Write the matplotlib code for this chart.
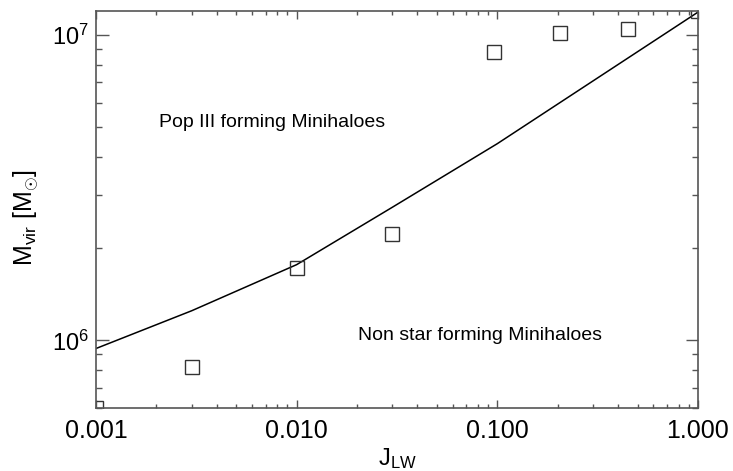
import matplotlib
matplotlib.use("Agg")
import matplotlib.pyplot as plt
from matplotlib.ticker import FixedLocator, LogLocator, NullFormatter

plt.rcParams['font.family'] = ['Liberation Sans', 'DejaVu Sans']
plt.rcParams['mathtext.fontset'] = 'custom'
plt.rcParams['mathtext.rm'] = 'Liberation Sans'
plt.rcParams['mathtext.it'] = 'Liberation Sans'
plt.rcParams['mathtext.bf'] = 'Liberation Sans'

# Threshold curve
curve_j = [0.001, 0.003, 0.01, 0.03, 0.1, 1.0]
curve_m = [9.4e5, 1.25e6, 1.77e6, 2.73e6, 4.41e6, 1.19e7]

# Simulation points (squares)
pts_j = [0.001, 0.003, 0.01, 0.03, 0.096, 0.205, 0.45, 1.0]
pts_m = [6.0e5, 8.2e5, 1.72e6, 2.23e6, 8.82e6, 1.02e7, 1.044e7, 1.2e7]

xticks = [0.001, 0.01, 0.1, 1.0]
xticklabels = ["0.001", "0.010", "0.100", "1.000"]
yticks = [1e6, 1e7]
yticklabels = [r"$10^{6}$", r"$10^{7}$"]

spine_col = "#555555"

fig = plt.figure(figsize=(7.33, 4.71), dpi=100)
ax = fig.add_axes([96/733, 1-408/471, (698-96)/733, (408-11)/471])

ax.plot(curve_j, curve_m, color="black", lw=1.1)
ax.plot(pts_j, pts_m, linestyle="none", marker="s", markersize=10.5,
        markerfacecolor="none", markeredgecolor="#333333", markeredgewidth=1.0,
        clip_on=True)

ax.set_xscale("log")
ax.set_yscale("log")
ax.set_xlim(0.001, 1.0)
ax.set_ylim(6.0e5, 1.2e7)

ax.xaxis.set_major_locator(FixedLocator(xticks))
ax.set_xticklabels(xticklabels)
ax.xaxis.set_minor_locator(LogLocator(base=10, subs=range(2, 10)))
ax.xaxis.set_minor_formatter(NullFormatter())
ax.yaxis.set_major_locator(FixedLocator(yticks))
ax.set_yticklabels(yticklabels)
ax.yaxis.set_minor_locator(LogLocator(base=10, subs=range(2, 10)))
ax.yaxis.set_minor_formatter(NullFormatter())

ax.tick_params(axis="both", which="both", direction="in", top=True, right=True,
               color=spine_col, width=1.0, labelcolor="black")
ax.tick_params(axis="x", which="major", length=5.5, pad=8, labelsize=18)
ax.tick_params(axis="x", which="minor", length=3)
ax.tick_params(axis="y", which="major", length=9, pad=5, labelsize=17)
ax.tick_params(axis="y", which="minor", length=4.5)

for s in ax.spines.values():
    s.set_color(spine_col)
    s.set_linewidth(1.2)

ax.set_xlabel(r"$\mathrm{J_{LW}}$", fontsize=17, labelpad=2)
ax.set_ylabel(r"$\mathrm{M_{vir}\ [M_{\odot}]}$", fontsize=18)
ax.yaxis.set_label_coords(-0.092, 0.48)

ax.text(0.00206, 5.16e6, "Pop III forming Minihaloes", fontsize=14, va="center", ha="left")
ax.text(0.0202, 1.04e6, "Non star forming Minihaloes", fontsize=14, va="center", ha="left")

fig.savefig("out.png", dpi=100)
